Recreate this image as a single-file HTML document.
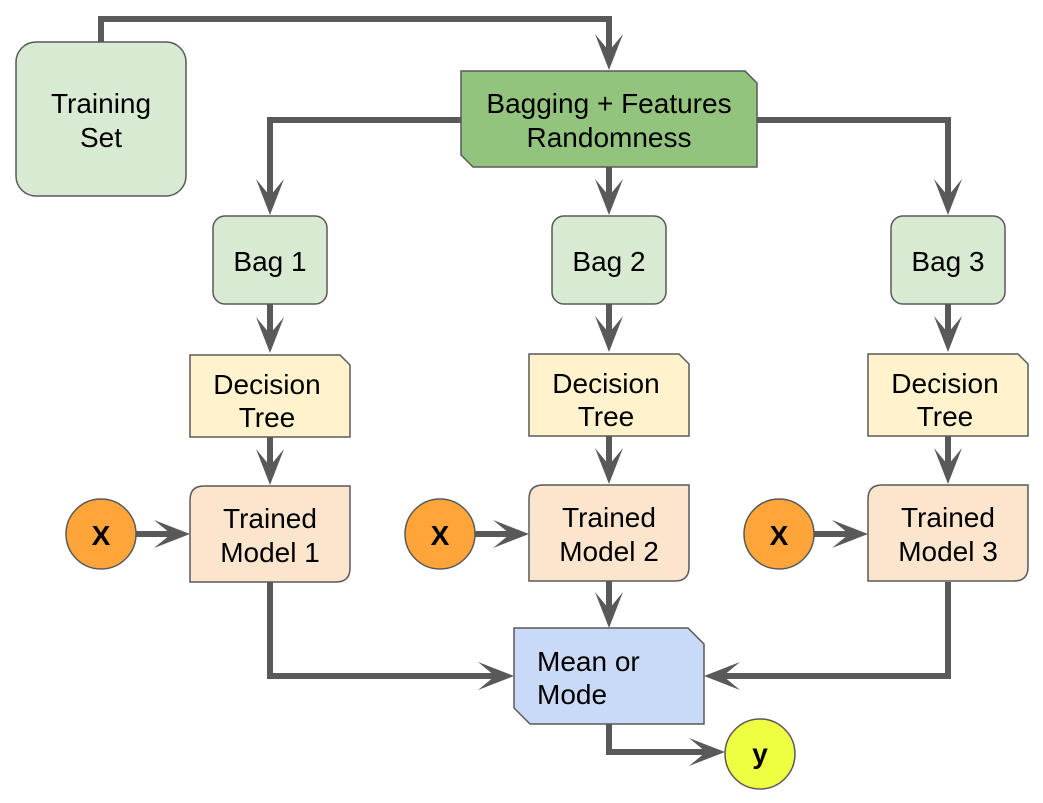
<!DOCTYPE html>
<html><head><meta charset="utf-8"><style>
html,body{margin:0;padding:0;background:#fff;}
svg{display:block;}
text{font-family:"Liberation Sans",sans-serif;font-size:28px;fill:#000;}
</style></head><body>
<svg width="1043" height="803" viewBox="0 0 1043 803" xmlns="http://www.w3.org/2000/svg">
<defs>
<marker id="a" markerUnits="userSpaceOnUse" markerWidth="40" markerHeight="32" refX="19" refY="16" orient="auto" viewBox="0 0 40 32">
<path d="M38,16 L2,2 L19,16 L2,30 Z" fill="#595959"/>
</marker>
</defs>
<g fill="none" stroke="#595959" stroke-width="6" stroke-linejoin="miter">
<path d="M101,42 V19 H609 V51" marker-end="url(#a)"/>
<path d="M461,120 H270 V196" marker-end="url(#a)"/>
<path d="M757,120 H948 V196" marker-end="url(#a)"/>
<path d="M609,167 V196" marker-end="url(#a)"/>
<path d="M270,304 V334" marker-end="url(#a)"/>
<path d="M609,304 V333" marker-end="url(#a)"/>
<path d="M948,304 V333" marker-end="url(#a)"/>
<path d="M270,437 V466" marker-end="url(#a)"/>
<path d="M609,436 V465" marker-end="url(#a)"/>
<path d="M948,436 V465" marker-end="url(#a)"/>
<path d="M136,534 H171" marker-end="url(#a)"/>
<path d="M475,534 H510" marker-end="url(#a)"/>
<path d="M814,534 H849" marker-end="url(#a)"/>
<path d="M270,582 V676 H495" marker-end="url(#a)"/>
<path d="M609,581 V609" marker-end="url(#a)"/>
<path d="M948,582 V676 H723" marker-end="url(#a)"/>
<path d="M609,724 V752 H706" marker-end="url(#a)"/>
</g>
<g stroke="#595959" stroke-width="1.5">
<rect x="16" y="42" width="170" height="154" rx="20" fill="#d9ead3"/>
<path d="M461,71 H745 L757,83 V167 H473 L461,155 Z" fill="#93c47d"/>
<rect x="213" y="216" width="114" height="88" rx="12" fill="#d9ead3"/>
<rect x="552" y="216" width="114" height="88" rx="12" fill="#d9ead3"/>
<rect x="891" y="216" width="114" height="88" rx="12" fill="#d9ead3"/>
<path d="M190,355 H340 L350,365 V437 H190 Z" fill="#fff2cc"/>
<path d="M529,354 H679 L689,364 V436 H529 Z" fill="#fff2cc"/>
<path d="M868,354 H1018 L1028,364 V436 H868 Z" fill="#fff2cc"/>
<path d="M204,486 H350 V568 Q350,582 336,582 H190 V500 Q190,486 204,486 Z" fill="#fce5cd"/>
<path d="M543,485 H689 V567 Q689,581 675,581 H529 V499 Q529,485 543,485 Z" fill="#fce5cd"/>
<path d="M882,485 H1028 V567 Q1028,581 1014,581 H868 V499 Q868,485 882,485 Z" fill="#fce5cd"/>
<path d="M514,628 H688 L704,644 V724 H530 L514,708 Z" fill="#c9daf8"/>
<circle cx="101" cy="534" r="35" fill="#ffa53a"/>
<circle cx="440" cy="534" r="35" fill="#ffa53a"/>
<circle cx="779" cy="534" r="35" fill="#ffa53a"/>
<circle cx="760" cy="754" r="35" fill="#eeff41"/>
</g>
<g text-anchor="middle">
<text x="101" y="113">Training</text><text x="101" y="147">Set</text>
<text x="609" y="113">Bagging + Features</text><text x="609" y="147">Randomness</text>
<text x="270" y="271">Bag 1</text><text x="609" y="271">Bag 2</text><text x="948" y="271">Bag 3</text>
<text x="267" y="394">Decision</text><text x="267" y="427">Tree</text>
<text x="606" y="393">Decision</text><text x="606" y="426">Tree</text>
<text x="945" y="393">Decision</text><text x="945" y="426">Tree</text>
<text x="270" y="528">Trained</text><text x="270" y="562">Model 1</text>
<text x="609" y="527">Trained</text><text x="609" y="561">Model 2</text>
<text x="948" y="527">Trained</text><text x="948" y="561">Model 3</text>
<text x="101" y="545" font-weight="bold" font-size="25">X</text>
<text x="440" y="545" font-weight="bold" font-size="25">X</text>
<text x="779" y="545" font-weight="bold" font-size="25">X</text>
<text x="760" y="763" font-weight="bold" font-size="25">y</text>
</g>
<text x="537" y="671">Mean or</text><text x="537" y="704">Mode</text>
</svg>
</body></html>
